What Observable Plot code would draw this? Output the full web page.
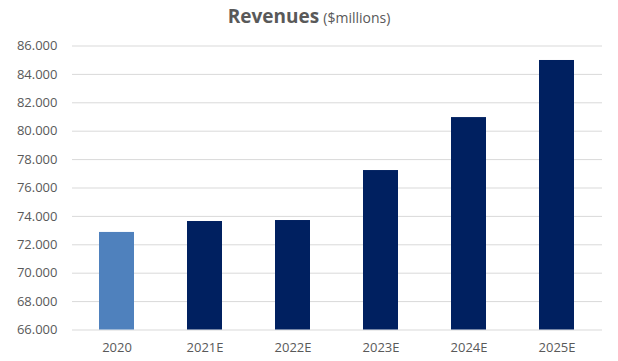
<!DOCTYPE html>
<html>
<head>
<meta charset="utf-8">
<script src="https://cdn.jsdelivr.net/npm/d3@7"></script>
<script src="https://cdn.jsdelivr.net/npm/@observablehq/plot@0.6"></script>
<style>
  html, body { margin: 0; padding: 0; background: #fff; }
  #wrap { position: relative; width: 618px; height: 361px; font-family: "Open Sans", sans-serif; }
  #title { position: absolute; top: 3px; left: 0; width: 618px; text-align: center; color: #595959; white-space: nowrap; }
  #title b { font-size: 19px; font-weight: 700; }
  #title span { font-size: 14px; font-weight: 400; }
  #chart { position: absolute; top: 0; left: 0; }
</style>
</head>
<body>
<div id="wrap">
  <div id="chart"></div>
  <div id="title"><b>Revenues</b> <span>($millions)</span></div>
</div>
<script>
const years = ["2020", "2021E", "2022E", "2023E", "2024E", "2025E"];
const revenues = [72870, 73640, 73710, 77230, 80960, 84980];
const barColors = ["#4F81BD", "#002060", "#002060", "#002060", "#002060", "#002060"];
const yTicks = [66000, 68000, 70000, 72000, 74000, 76000, 78000, 80000, 82000, 84000, 86000];

const data = years.map((y, i) => ({year: y, value: revenues[i], color: barColors[i]}));
const fmt = d3.formatLocale({decimal: ",", thousands: ".", grouping: [3], currency: ["", ""]}).format(",");

const chart = Plot.plot({
  width: 618,
  height: 361,
  marginTop: 45.5,
  marginBottom: 31.5,
  marginLeft: 72,
  marginRight: 16,
  style: {fontFamily: "Open Sans, sans-serif", fontSize: "13px", color: "#595959", background: "transparent"},
  x: {domain: years, paddingInner: 0.6, paddingOuter: 0.3, label: null, tickSize: 0, tickPadding: 13},
  y: {domain: [66000, 86000], ticks: yTicks, tickFormat: fmt, label: null, tickSize: 0, tickPadding: 15},
  marks: [
    Plot.ruleY(yTicks, {stroke: "#d9d9d9", strokeWidth: 1}),
    Plot.barY(data, {x: "year", y1: 66000, y2: "value", fill: "color"})
  ]
});
document.getElementById("chart").appendChild(chart);
</script>
</body>
</html>
